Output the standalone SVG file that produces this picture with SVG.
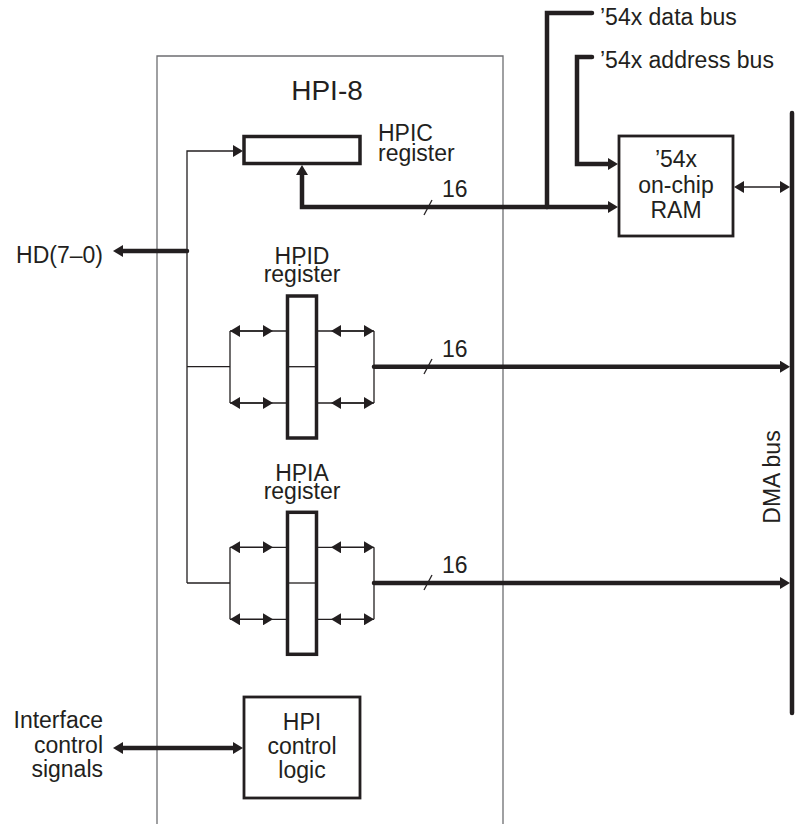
<svg xmlns="http://www.w3.org/2000/svg" xmlns:xlink="http://www.w3.org/1999/xlink" width="796" height="824" viewBox="0 0 796 824">
<style>
  text { font-family: "Liberation Sans", Arial, sans-serif; font-size: 23px; fill: #231f20; }
  .mid { text-anchor: middle; }
  .end { text-anchor: end; }
  .title { font-size: 28px; }
  .frame { fill: none; stroke: #6d6e71; stroke-width: 1.3; }
  .thin { fill: none; stroke: #231f20; stroke-width: 1.3; }
  .thick { fill: none; stroke: #231f20; stroke-width: 4.5; stroke-linecap: round; stroke-linejoin: miter; }
  .reg { fill: #fff; stroke: #231f20; stroke-width: 3.5; }
  .box { fill: #fff; stroke: #231f20; stroke-width: 2.8; }
  .a2 { marker-start: url(#ah); marker-end: url(#ah); }
  .a1 { marker-end: url(#ah); }
</style>
<defs>
  <marker id="ah" viewBox="0 -6 10 12" refX="0" refY="0" markerWidth="10" markerHeight="12" markerUnits="userSpaceOnUse" orient="auto-start-reverse">
    <path d="M0,-6 L10,0 L0,6 z" fill="#231f20"/>
  </marker>
  <g id="regUnit">
    <!-- left side -->
    <path class="thin" d="M230,331 V403"/>
    <path class="thin" d="M230,331 H287"/>
    <path class="thin" d="M230,403 H287"/>
    <path class="thin a2" d="M240,331 H263"/>
    <path class="thin a2" d="M240,403 H263"/>
    <!-- register box -->
    <rect class="reg" x="287.5" y="296" width="29" height="142"/>
    <path class="thin" d="M289,366.7 H315"/>
    <!-- right side -->
    <path class="thin" d="M318,331 H374"/>
    <path class="thin" d="M318,403 H374"/>
    <path class="thin a2" d="M341,331 H364"/>
    <path class="thin a2" d="M341,403 H364"/>
    <path class="thin" d="M374,331 V403"/>
  </g>
</defs>

<!-- HPI-8 frame -->
<g id="hpi8">
  <path class="frame" d="M157,824 V56 H503 V824"/>
  <text class="mid title" x="327" y="100">HPI-8</text>
</g>

<g id="connectors">
  <!-- thin control line from HD to registers -->
  <path class="thin a1" d="M187,583 V151 H233"/>
  <path class="thin" d="M187,366.7 H230"/>
  <path class="thin" d="M187,583 H230"/>
  <!-- HD(7-0) -->
  <path class="thick a1" d="M187,251 H123"/>
  <!-- HPIC bus -->
  <path class="thick a1" d="M547,207 H302 V175"/>
  <path class="thick a1" d="M547,207 H608"/>
  <!-- data bus -->
  <path class="thick" d="M592,13 H547 V207"/>
  <!-- address bus -->
  <path class="thick a1" d="M592,57 H577 V164 H608"/>
  <!-- RAM to DMA -->
  <path class="thin a2" d="M744,187 H780"/>
  <!-- HPID / HPIA to DMA -->
  <path class="thick a1" d="M374,366.7 H780"/>
  <path class="thick a1" d="M374,583 H780"/>
  <!-- interface control -->
  <path class="thick a2" d="M123,748 H233"/>
  <!-- width slashes -->
  <path class="thin" d="M424,215 L432,200"/>
  <path class="thin" d="M424,374 L432,359"/>
  <path class="thin" d="M424,590 L432,575"/>
  <text x="442" y="197">16</text>
  <text x="442" y="357">16</text>
  <text x="442" y="573">16</text>
</g>

<g id="dmaBus">
  <path class="thick" d="M792,113 V713"/>
  <text class="mid" transform="translate(780,477) rotate(-90)">DMA bus</text>
</g>

<g id="hpic">
  <rect class="reg" x="244" y="136.5" width="116" height="27"/>
  <text x="378" y="141">HPIC</text>
  <text x="378" y="161">register</text>
</g>

<g id="ram">
  <rect class="box" x="619" y="136" width="114" height="100"/>
  <text class="mid" x="676" y="167">’54x</text>
  <text class="mid" x="676" y="193">on-chip</text>
  <text class="mid" x="676" y="218">RAM</text>
</g>

<g id="dataBusLabel"><text x="600" y="25">’54x data bus</text></g>
<g id="addrBusLabel"><text x="600" y="68">’54x address bus</text></g>

<g id="hd"><text class="end" x="103" y="263">HD(7–0)</text></g>

<g id="hpid">
  <use xlink:href="#regUnit"/>
  <text class="mid" x="302" y="264">HPID</text>
  <text class="mid" x="302" y="282">register</text>
</g>

<g id="hpia">
  <use xlink:href="#regUnit" transform="translate(0,216.3)"/>
  <text class="mid" x="302" y="481">HPIA</text>
  <text class="mid" x="302" y="499">register</text>
</g>

<g id="hpiLogic">
  <rect class="box" x="244" y="697" width="116" height="101"/>
  <text class="mid" x="302" y="730">HPI</text>
  <text class="mid" x="302" y="754">control</text>
  <text class="mid" x="302" y="778">logic</text>
</g>

<g id="iface">
  <text class="end" x="103" y="728">Interface</text>
  <text class="end" x="103" y="753">control</text>
  <text class="end" x="103" y="777">signals</text>
</g>
</svg>
